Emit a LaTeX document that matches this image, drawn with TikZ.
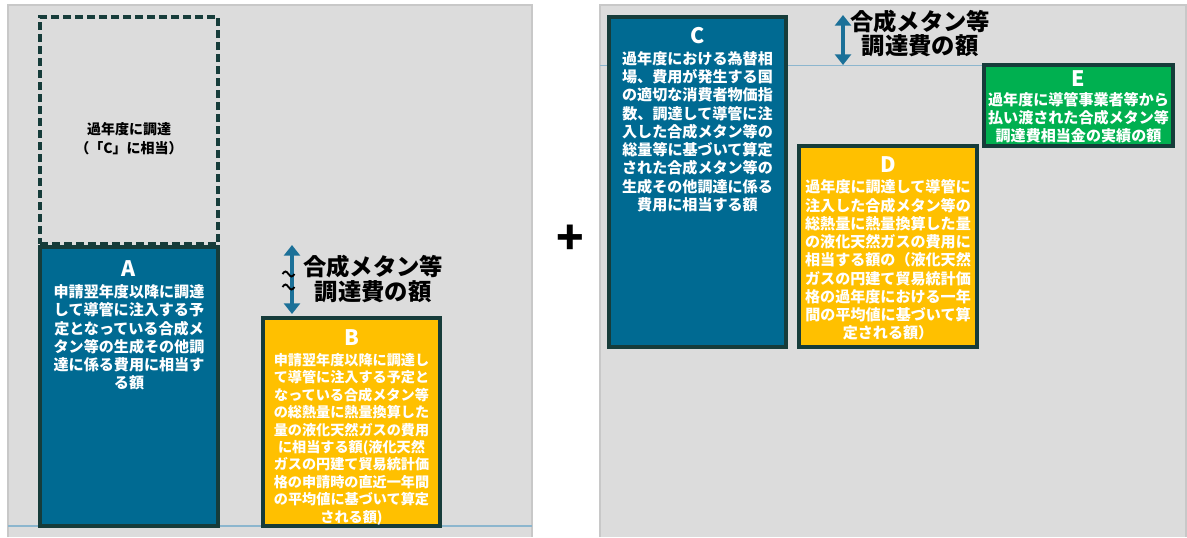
\documentclass[tikz,border=0pt]{standalone}
\usepackage{fontspec}
\newfontfamily\cjk{Noto Sans CJK JP}
\usetikzlibrary{positioning,fit,arrows.meta}
\definecolor{panelgray}{RGB}{220,220,220}
\definecolor{panelrim}{RGB}{200,200,200}
\definecolor{boxblue}{RGB}{0,106,146}
\definecolor{boxyellow}{RGB}{255,192,0}
\definecolor{boxgreen}{RGB}{0,176,80}
\definecolor{boxrim}{RGB}{22,60,58}
\definecolor{arrowblue}{RGB}{27,112,152}
\definecolor{levelblue}{RGB}{140,182,206}

\begin{document}
\begin{tikzpicture}[x=0.75pt, y=-0.75pt, >={Triangle[width=12pt,length=8pt]}]
	\tikzstyle{panel} = [fill=panelgray]
	\tikzstyle{rim} = [draw=panelrim, line width=1pt]
	\tikzstyle{levelline} = [draw=levelblue, line width=1pt]
	\tikzstyle{costbox} = [draw=boxrim, line width=2.5pt, inner sep=0pt]
	\tikzstyle{bluebox} = [costbox, fill=boxblue]
	\tikzstyle{yellowbox} = [costbox, fill=boxyellow]
	\tikzstyle{greenbox} = [costbox, fill=boxgreen]
	\tikzstyle{dashbox} = [draw=boxrim, line width=2.5pt, dash pattern=on 6pt off 3pt, inner sep=0pt]
	\tikzstyle{boxletter} = [text=white, inner sep=0pt, font=\cjk\bfseries\fontsize{16}{16}\selectfont]
	\tikzstyle{boxtext} = [text=white, inner sep=0pt, align=center, font=\cjk\bfseries\fontsize{11.3}{13.7}\selectfont]
	\tikzstyle{smalltext} = [boxtext, font=\cjk\bfseries\fontsize{10.6}{13.1}\selectfont]
	\tikzstyle{amtarrow} = [<->, draw=arrowblue, fill=arrowblue, line width=3pt]
	\tikzstyle{breakmark} = [draw=black, line width=1.4pt]
	\tikzstyle{amtlabel} = [inner sep=0pt, align=center, font=\cjk\bfseries\fontsize{17.5}{18.5}\selectfont]

	\useasboundingbox (0,0) rectangle (1187,537);

	% panels
	\path[panel] (8,5) rectangle (532,537);
	\path[panel] (600,5) rectangle (1186,537);
	\draw[rim] (8,537) -- (8,5) -- (532,5) -- (532,537);
	\draw[rim] (600,537) -- (600,5) -- (1186,5) -- (1186,537);
	\draw[levelline] (8,526) -- (532,526);
	\draw[levelline] (600,65.5) -- (983,65.5);

	% left panel
	\node (dashC) [dashbox, fit={(40,17) (218,244)}] {};
	\node (dashtxt) [boxtext, text=black, font=\cjk\bfseries\fontsize{10.5}{14}\selectfont, yshift=-6pt] at (dashC.center) {過年度に調達\\（「C」に相当）};

	\node (boxA) [bluebox, fit={(40,247) (218,526)}] {};
	\node (ltrA) [boxletter, below=11pt of boxA.north] {A};
	\node (txtA) [boxtext, below=6pt of ltrA] {申請翌年度以降に調達\\して導管に注入する予\\定となっている合成メ\\タン等の生成その他調\\達に係る費用に相当す\\る額};

	\node (boxB) [yellowbox, fit={(263,318) (440,526)}] {};
	\node (ltrB) [boxletter, below=10pt of boxB.north] {B};
	\node (txtB) [smalltext, below=5pt of ltrB] {申請翌年度以降に調達し\\て導管に注入する予定と\\なっている合成メタン等\\の総熱量に熱量換算した\\量の液化天然ガスの費用\\に相当する額(液化天然\\ガスの円建て貿易統計価\\格の申請時の直近一年間\\の平均値に基づいて算定\\される額)};

	\coordinate (arrLtop) at (292,245);
	\coordinate (arrLbot) at (292,314);
	\draw[amtarrow] (arrLtop) -- (arrLbot);
	% break marks
	\draw[breakmark] (282.5,274) sin (285.5,271.5) cos (288.5,274) sin (291.5,276.5) cos (294.5,274);
	\draw[breakmark] (282.5,287) sin (285.5,284.5) cos (288.5,287) sin (291.5,289.5) cos (294.5,287);
	\node (amtL) [amtlabel] at (373,279) {合成メタン等\\調達費の額};

	\node (plus) [inner sep=0pt, font=\cjk\bfseries\fontsize{34}{34}\selectfont] at (570,240) {+};

	% right panel
	\node (boxC) [bluebox, fit={(609,17) (786,347)}] {};
	\node (ltrC) [boxletter, below=9pt of boxC.north] {C};
	\node (txtC) [boxtext, below=5pt of ltrC] {過年度における為替相\\場、費用が発生する国\\の適切な消費者物価指\\数、調達して導管に注\\入した合成メタン等の\\総量等に基づいて算定\\された合成メタン等の\\生成その他調達に係る\\費用に相当する額};

	\node (boxD) [yellowbox, fit={(799,146) (977,347)}] {};
	\node (ltrD) [boxletter, below=9pt of boxD.north] {D};
	\node (txtD) [boxtext, below=5pt of ltrD] {過年度に調達して導管に\\注入した合成メタン等の\\総熱量に熱量換算した量\\の液化天然ガスの費用に\\相当する額の（液化天然\\ガスの円建て貿易統計価\\格の過年度における一年\\間の平均値に基づいて算\\定される額）};

	\node (boxE) [greenbox, fit={(984,65) (1173,146)}] {};
	\node (ltrE) [boxletter, below=5pt of boxE.north] {E};
	\node (txtE) [boxtext, below=4pt of ltrE] {過年度に導管事業者等から\\払い渡された合成メタン等\\調達費相当金の実績の額};

	\coordinate (arrRtop) at (843,15);
	\coordinate (arrRbot) at (843,65);
	\draw[amtarrow] (arrRtop) -- (arrRbot);
	\node (amtR) [amtlabel] at (920,33.5) {合成メタン等\\調達費の額};
\end{tikzpicture}
\end{document}
